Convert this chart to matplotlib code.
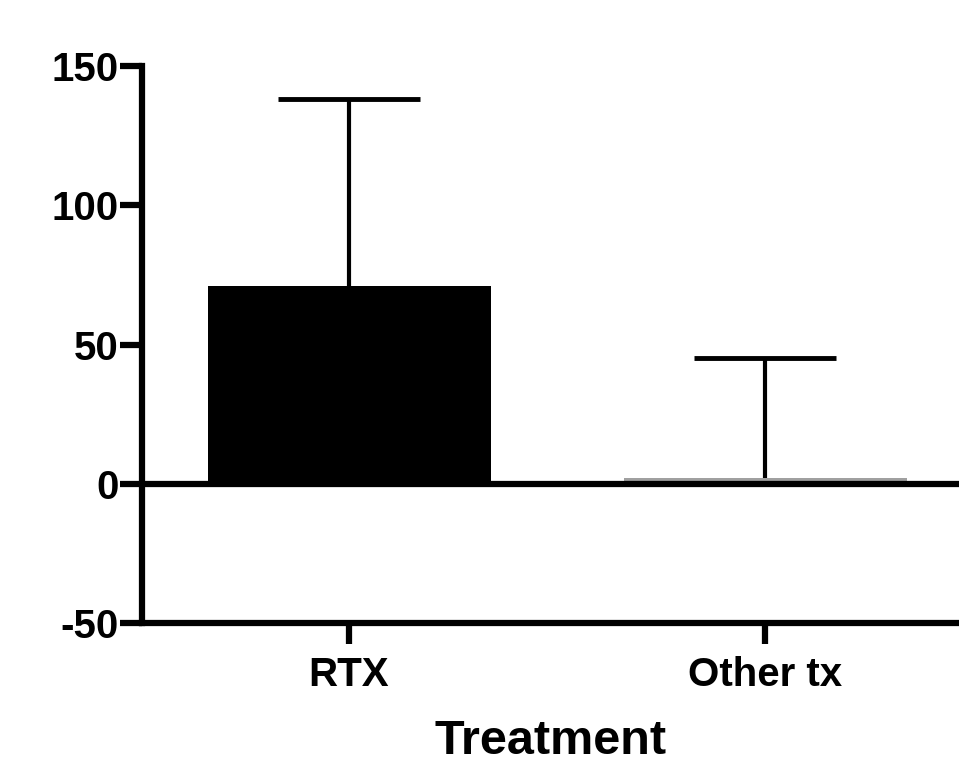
import matplotlib
matplotlib.use("Agg")
import matplotlib.pyplot as plt

# data
categories = ["RTX", "Other tx"]
means = [71.0, 2.0]
err_up = [67.0, 43.0]
bar_colors = ["#000000", "#a0a0a0"]

plt.rcParams["font.family"] = ["Liberation Sans", "DejaVu Sans"]
plt.rcParams["font.weight"] = "bold"
plt.rcParams["axes.unicode_minus"] = False

fig = plt.figure(figsize=(9.59, 7.67), dpi=100)
ax = fig.add_axes([142 / 959, 144 / 767, 1 - 142 / 959, (623 - 66) / 767])

x = list(range(len(categories)))
ax.bar(x, means, width=0.68, color=bar_colors, zorder=2)
_, caps, _ = ax.errorbar(x, means, yerr=[[0] * len(err_up), err_up], fmt="none",
                         ecolor="black", elinewidth=3, capsize=51, capthick=3.5,
                         zorder=3)
caps[0].set_visible(False)  # only the upper cap
ax.axhline(0, color="black", lw=4.5, zorder=4)

ax.set_xlim(-0.4976, 1.466)
ax.set_ylim(-50, 150)
ax.set_yticks([-50, 0, 50, 100, 150])
ax.set_xticks(x)
ax.set_xticklabels(categories)

for side in ["top", "right"]:
    ax.spines[side].set_visible(False)
for side in ["left", "bottom"]:
    ax.spines[side].set_linewidth(4.5)

ax.tick_params(axis="y", length=16, width=4.5, labelsize=29, pad=1)
ax.tick_params(axis="x", length=15, width=4.5, labelsize=29, pad=9)
for lbl in ax.get_xticklabels() + ax.get_yticklabels():
    lbl.set_fontweight("bold")

ax.set_xlabel("Treatment", fontsize=35, fontweight="bold", labelpad=18)

fig.savefig("out.png", dpi=100)
